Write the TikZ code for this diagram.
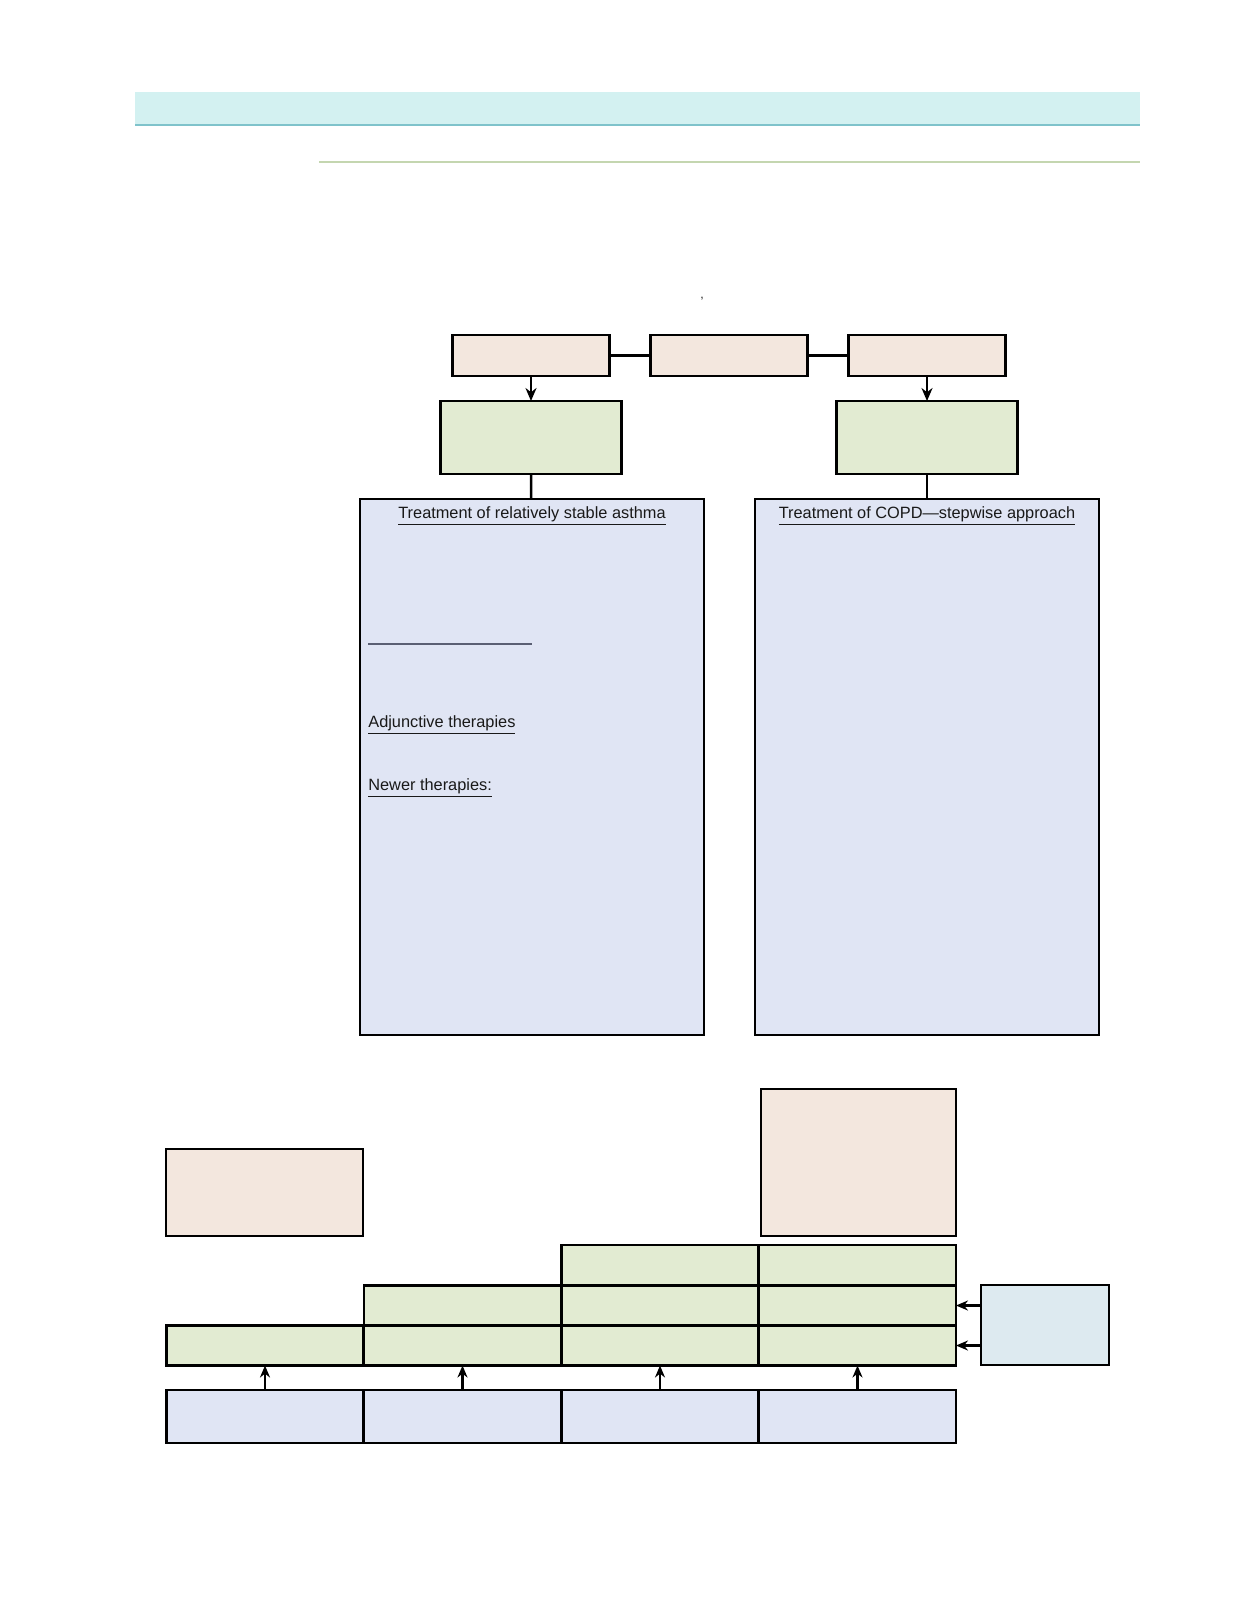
\documentclass[tikz,border=0pt]{standalone}
\usepackage{fontspec}
\setsansfont{Liberation Sans}
\usetikzlibrary{positioning, arrows.meta}
\definecolor{bandCyan}{HTML}{D3F1F1}
\definecolor{bandLine}{HTML}{7FC3CB}
\definecolor{ruleGreen}{HTML}{C4D6B0}
\definecolor{peach}{HTML}{F3E7DE}
\definecolor{sage}{HTML}{E2EBD2}
\definecolor{lavender}{HTML}{E0E5F4}
\definecolor{iceBlue}{HTML}{DDEAF0}
\definecolor{slateRule}{HTML}{5A5F73}
\tikzset{
  every node/.style={font=\sffamily\fontsize{9.3}{11}\selectfont},
  arr/.style={-{Stealth[length=2.6mm, width=2.2mm]}, line width=1.4pt},
  arrs/.style={-{Stealth[length=2.4mm, width=2mm]}, line width=1.2pt},
  link/.style={line width=1.4pt},
  box/.style={draw, line width=1.4pt, inner sep=0pt, outer sep=0pt},
  boxPeach/.style={box, fill=peach},
  boxSage/.style={box, fill=sage},
  boxLav/.style={box, fill=lavender},
  boxIce/.style={box, fill=iceBlue},
  cell/.style={boxSage, minimum width=3.94cm, minimum height=0.8cm},
  foot/.style={boxLav, minimum width=3.94cm, minimum height=1.06cm},
  txt/.style={inner sep=0pt, text=black!90},
}

\begin{document}
\begin{tikzpicture}[x=0.02cm, y=-0.02cm]
  \useasboundingbox (0,0) rectangle (1250,1600);
  % header bands
  \fill[bandCyan] (135,92) rectangle (1140,126);
  \draw[bandLine, line width=1.2pt] (135,125) -- (1140,125);
  \draw[ruleGreen, line width=1.2pt] (319,162) -- (1140,162);
  \node[font=\sffamily\scriptsize, txt] (tick) at (702,299) {,};
  % top row of boxes
  \node[boxPeach, minimum width=3.14cm, minimum height=0.82cm] (pa) at (531,355.5) {};
  \node[boxPeach, minimum width=3.14cm, minimum height=0.82cm] (pb) at (729,355.5) {};
  \node[boxPeach, minimum width=3.14cm, minimum height=0.82cm] (pc) at (927,355.5) {};
  \draw[link] (pa) -- (pb);
  \draw[link] (pb) -- (pc);
  \node[boxSage, minimum width=3.62cm, minimum height=1.46cm] (ga) at (531,437.5) {};
  \node[boxSage, minimum width=3.62cm, minimum height=1.46cm] (gc) at (927,437.5) {};
  \draw[arr] (pa) -- (ga);
  \draw[arr] (pc) -- (gc);
  % the two treatment panels
  \node[boxLav, minimum width=6.88cm, minimum height=10.72cm] (ta) at (532,767) {};
  \node[boxLav, minimum width=6.88cm, minimum height=10.72cm] (tc) at (927,767) {};
  \draw[link] (ga) -- (ta);
  \draw[link] (gc) -- (tc);
  \node[txt] (asthmaHead) at (532,516) {\underline{Treatment of relatively stable asthma}};
  \node[txt] (copdHead) at (927,516) {\underline{Treatment of COPD---stepwise approach}};
  \coordinate (ruleL) at (368,644);
  \coordinate (ruleR) at (532,644);
  \draw[slateRule, line width=0.7pt] (ruleL) -- (ruleR);
  \node[txt, anchor=west] (adjHead) at (368,725) {\underline{Adjunctive therapies}};
  \node[txt, anchor=west] (newHead) at (368,788) {\underline{Newer therapies:}};
  % stepwise grid at the bottom
  \node[boxPeach, minimum width=3.94cm, minimum height=1.74cm] (pl) at (264.5,1192.5) {};
  \node[boxPeach, minimum width=3.9cm, minimum height=2.94cm] (pr) at (858.5,1162.5) {};
  \foreach \c/\x in {1/265, 2/462.5, 3/660, 4/857.5} {
    \node[cell] (b\c) at (\x,1345.5) {};
    \node[foot] (d\c) at (\x,1416.5) {};
    \draw[arrs] (d\c) -- (b\c);
  }
  \foreach \c/\x in {2/462.5, 3/660, 4/857.5}
    \node[cell] (m\c) at (\x,1305.5) {};
  \foreach \c/\x in {3/660, 4/857.5}
    \node[cell] (t\c) at (\x,1265) {};
  \node[boxIce, minimum width=2.56cm, minimum height=1.6cm] (side) at (1045,1325) {};
  \draw[arrs] (side.west |- m4.east) -- (m4.east);
  \draw[arrs] (side.west |- b4.east) -- (b4.east);
\end{tikzpicture}
\end{document}
